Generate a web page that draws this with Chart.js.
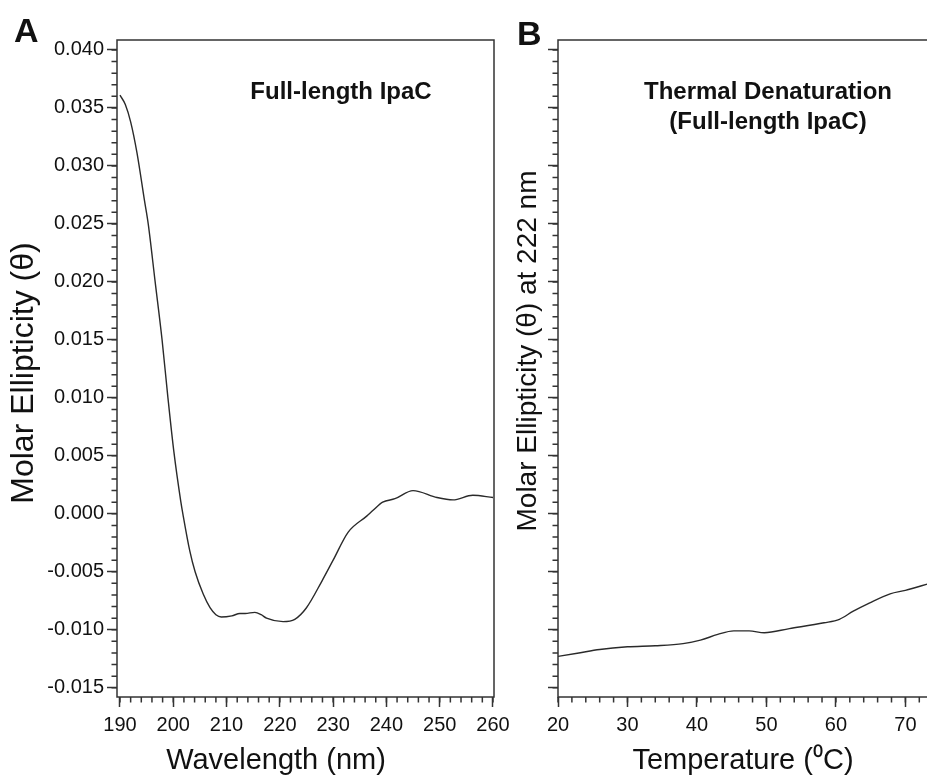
<!DOCTYPE html>
<html>
<head>
<meta charset="utf-8">
<script src="https://cdn.jsdelivr.net/npm/chart.js@4.4.1/dist/chart.umd.min.js"></script>
<style>
  html, body { margin: 0; padding: 0; background: #ffffff; overflow: hidden; width: 927px; height: 779px; }
  .wrap { position: absolute; top: 0; }
  #wrapA { left: 0; width: 520px; height: 779px; }
  #wrapB { left: 505px; width: 487px; height: 779px; }
</style>
</head>
<body>
<div class="wrap" id="wrapA"><canvas id="chartA" width="520" height="779"></canvas></div>
<div class="wrap" id="wrapB"><canvas id="chartB" width="487" height="779"></canvas></div>
<script>
// ---------- Panel A: CD spectrum ----------
const wavelengths = [190, 191.0, 192.0, 193.2, 194.6, 195.3, 196.6, 197.9, 199.0, 200.1, 201.4, 201.8, 203.1, 204.1, 205.6, 206.9, 208.0, 209.0, 211.0, 212.5, 213.5, 215.3, 216.5, 217.5, 220.6, 222.8, 225.0, 227.9, 230.0, 232.8, 236.3, 237.5, 239.3, 241.6, 245.0, 249.5, 252.5, 256.2, 260];
const ellipticity = [0.0361, 0.0353, 0.0338, 0.0311, 0.0270, 0.0250, 0.0200, 0.0150, 0.0100, 0.0054, 0.0011, 0.0000, -0.0032, -0.0050, -0.0069, -0.0081, -0.0087, -0.0089, -0.0088, -0.0086, -0.0086, -0.0085, -0.0087, -0.0090, -0.0093, -0.0091, -0.0081, -0.0058, -0.0040, -0.0016, -0.0002, 0.0003, 0.0010, 0.0013, 0.0020, 0.0014, 0.0012, 0.0016, 0.0014];
const wavelengthTicks = [190, 200, 210, 220, 230, 240, 250, 260];
const ellipticityTicks = [-0.015, -0.010, -0.005, 0.000, 0.005, 0.010, 0.015, 0.020, 0.025, 0.030, 0.035, 0.040];
const ellipticityTickLabels = ['-0.015', '-0.010', '-0.005', '0.000', '0.005', '0.010', '0.015', '0.020', '0.025', '0.030', '0.035', '0.040'];

// ---------- Panel B: thermal denaturation ----------
const temperatures = [20, 23, 26, 30, 34, 38, 40.5, 43, 45.3, 47.5, 49.7, 53.3, 58.3, 60.5, 62.5, 64.8, 67.8, 70, 73.5];
const ellipticity222 = [-0.0123, -0.0120, -0.0117, -0.01147, -0.01138, -0.0112, -0.0109, -0.0104, -0.0101, -0.0101, -0.01026, -0.0099, -0.0094, -0.0091, -0.0084, -0.0077, -0.0069, -0.0066, -0.0060];
const temperatureTicks = [20, 30, 40, 50, 60, 70, 80];
const temperatureTickLabels = ['20', '30', '40', '50', '60', '70', '80'];

Chart.defaults.font.family = "'Liberation Sans', Arial, sans-serif";
Chart.defaults.color = '#111';
Chart.defaults.devicePixelRatio = 1;

const INK = '#333';
const FONT = "'Liberation Sans', Arial, sans-serif";

function range(a, b, step) {
  const out = [];
  const n = Math.round((b - a) / step);
  for (let i = 0; i <= n; i++) out.push(+(a + i * step).toFixed(6));
  return out;
}

const framePlugin = {
  id: 'frame',
  afterDraw(chart, args, opts) {
    const { ctx, chartArea: a, scales } = chart;
    const x = scales.x, y = scales.y;
    ctx.save();
    ctx.strokeStyle = INK;
    ctx.lineWidth = 1.5;
    ctx.strokeRect(a.left, a.top, a.right - a.left, a.bottom - a.top);
    ctx.beginPath();
    (opts.xMinor || []).forEach(v => {
      const p = x.getPixelForValue(v);
      if (p < a.left - 1 || p > a.right + 1) return;
      ctx.moveTo(p, a.bottom); ctx.lineTo(p, a.bottom + 5.5);
    });
    (opts.yMinor || []).forEach(v => {
      const p = y.getPixelForValue(v);
      if (p < a.top - 1 || p > a.bottom + 1) return;
      ctx.moveTo(a.left, p); ctx.lineTo(a.left - 5.5, p);
    });
    ctx.stroke();
    ctx.fillStyle = '#111';
    // in-plot titles
    ctx.textAlign = 'center';
    ctx.textBaseline = 'middle';
    ctx.font = 'bold 24px ' + FONT;
    (opts.lines || []).forEach((t, i) => {
      ctx.fillText(t, opts.cx, opts.cy + i * 30);
    });
    // x axis title
    ctx.font = opts.xTitleSize + 'px ' + FONT;
    ctx.fillText(opts.xTitle, opts.xTitleX, opts.xTitleY);
    // y axis title (rotated)
    ctx.save();
    ctx.translate(opts.yTitleX, opts.yTitleY);
    ctx.rotate(-Math.PI / 2);
    ctx.font = opts.yTitleSize + 'px ' + FONT;
    ctx.fillText(opts.yTitle, 0, 0);
    ctx.restore();
    // panel letter
    ctx.textAlign = 'left';
    ctx.textBaseline = 'alphabetic';
    ctx.font = 'bold 34px ' + FONT;
    ctx.fillText(opts.letter, opts.lx, opts.ly);
    ctx.restore();
  }
};

function makeChart(id, cfg) {
  return new Chart(document.getElementById(id), {
    type: 'line',
    data: {
      datasets: [{
        data: cfg.xs.map((v, i) => ({ x: v, y: cfg.ys[i] })),
        borderColor: '#2a2a2a',
        borderWidth: 1.4,
        pointRadius: 0,
        fill: false,
        cubicInterpolationMode: 'monotone'
      }]
    },
    options: {
      responsive: false,
      animation: false,
      devicePixelRatio: 1,
      layout: { padding: { top: 40, right: cfg.padRight, left: 0, bottom: 0 } },
      plugins: {
        legend: { display: false },
        tooltip: { enabled: false },
        frame: cfg.frame
      },
      scales: {
        x: {
          type: 'linear',
          min: cfg.xMin, max: cfg.xMax,
          afterBuildTicks: s => { s.ticks = cfg.xTicks.map(v => ({ value: v })); },
          afterFit: s => { s.height = 82; },
          ticks: {
            autoSkip: false, maxRotation: 0,
            padding: 6,
            font: { size: 20 }, color: '#111',
            callback: (v, i) => cfg.xLabels[i]
          },
          grid: { display: true, drawOnChartArea: false, drawTicks: true, tickLength: 10, tickColor: INK, tickWidth: 1.5 },
          border: { display: false },
          title: { display: false }
        },
        y: {
          type: 'linear',
          min: -0.0158, max: 0.04086,
          afterBuildTicks: s => { s.ticks = ellipticityTicks.map(v => ({ value: v })); },
          afterFit: s => { s.width = cfg.yWidth; },
          ticks: {
            display: cfg.yLabels,
            padding: 3,
            font: { size: 20 }, color: '#111',
            callback: (v, i) => ellipticityTickLabels[i]
          },
          grid: { display: true, drawOnChartArea: false, drawTicks: true, tickLength: 10, tickColor: INK, tickWidth: 1.5 },
          border: { display: false },
          title: { display: false }
        }
      }
    },
    plugins: [framePlugin]
  });
}

const yMinorTicks = range(-0.015, 0.040, 0.001);

makeChart('chartA', {
  xs: wavelengths, ys: ellipticity,
  xMin: 189.44, xMax: 260.19,
  xTicks: wavelengthTicks, xLabels: wavelengthTicks.map(String),
  yWidth: 117, yLabels: true,
  padRight: 26,
  frame: {
    xMinor: range(190, 260, 2), yMinor: yMinorTicks,
    lines: ['Full-length IpaC'], cx: 341, cy: 92,
    letter: 'A', lx: 14, ly: 42,
    xTitle: 'Wavelength (nm)', xTitleSize: 29, xTitleX: 276, xTitleY: 761,
    yTitle: 'Molar Ellipticity (\u03B8)', yTitleSize: 32, yTitleX: 24, yTitleY: 373
  }
});

makeChart('chartB', {
  xs: temperatures, ys: ellipticity222,
  xMin: 20, xMax: 80,
  xTicks: temperatureTicks, xLabels: temperatureTickLabels,
  yWidth: 53, yLabels: false,
  padRight: 15,
  frame: {
    xMinor: range(20, 80, 2), yMinor: yMinorTicks,
    lines: ['Thermal Denaturation', '(Full-length IpaC)'], cx: 263, cy: 92,
    letter: 'B', lx: 12, ly: 45,
    xTitle: 'Temperature (\u2070C)', xTitleSize: 29, xTitleX: 238, xTitleY: 761,
    yTitle: 'Molar Ellipticity (\u03B8) at 222 nm', yTitleSize: 28, yTitleX: 23, yTitleY: 351
  }
});
</script>
</body>
</html>
